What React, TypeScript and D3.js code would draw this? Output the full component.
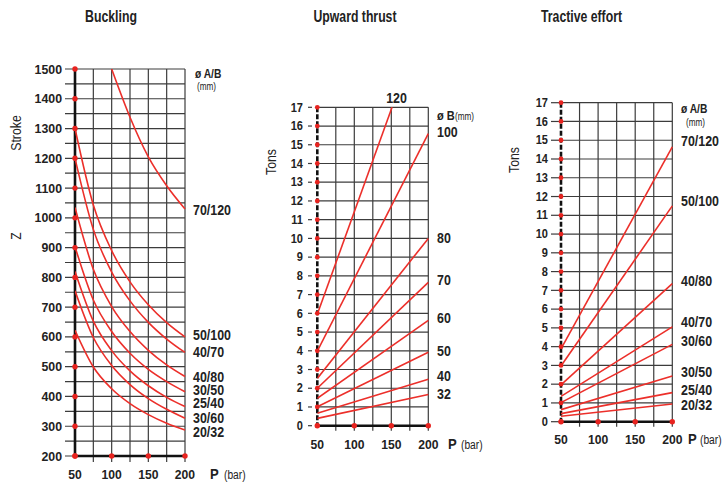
import React from "react";
import * as d3 from "d3";

// ---------------- DATA ----------------
// Buckling: admissible stroke Z (mm) vs pressure P (bar)
const bucklingP = [50, 75, 100, 125, 150, 175, 200];
const buckling_20_32 = [622, 499, 426, 376, 339, 310, 287];
const buckling_30_60 = [755, 598, 504, 440, 393, 357, 327];
const buckling_25_40 = [820, 653, 554, 486, 436, 397, 366];
const buckling_30_50 = [903, 724, 618, 545, 491, 450, 416];
const buckling_40_80 = [1035, 827, 702, 618, 555, 506, 467];
const buckling_40_70 = [1200, 961, 818, 721, 649, 593, 548];
const buckling_50_100 = [1300, 1043, 890, 785, 708, 648, 600];
const buckling70P = [100, 125, 150, 175, 200];
const buckling_70_120 = [1500, 1338, 1205, 1108, 1030];
const bucklingYTicks = [200, 300, 400, 500, 600, 700, 800, 900, 1000, 1100, 1200, 1300, 1400, 1500];
const bucklingXTicks = [50, 100, 150, 200];

// Upward thrust: tons vs P, rod diameter B (mm)
const thrustP = [50, 200];
const thrust120P = [50, 151];
const thrust_120 = [5.95, 17];
const thrust_100 = [3.98, 15.6];
const thrust_80 = [2.52, 10.0];
const thrust_70 = [2.0, 7.65];
const thrust_60 = [1.46, 5.62];
const thrust_50 = [1.01, 3.92];
const thrust_40 = [0.67, 2.48];
const thrust_32 = [0.39, 1.67];

// Tractive effort: tons vs P, diameters A/B (mm)
const tractiveP = [50, 200];
const tractive_70_120 = [3.88, 14.65];
const tractive_50_100 = [2.97, 11.5];
const tractive_40_80 = [1.96, 7.36];
const tractive_40_70 = [1.35, 5.05];
const tractive_30_60 = [1.02, 4.12];
const tractive_30_50 = [0.64, 2.44];
const tractive_25_40 = [0.43, 1.55];
const tractive_20_32 = [0.29, 0.94];

const tonsTicks = [0, 1, 2, 3, 4, 5, 6, 7, 8, 9, 10, 11, 12, 13, 14, 15, 16, 17];
const pTicks = [50, 100, 150, 200];
const gridP = [75, 100, 125, 150, 175, 200];

// ---------------- STYLE / LAYOUT ----------------
const FONT = "'Liberation Sans', Arial, sans-serif";
const RED = "#ec2f2a";
const DOT = "#e8231f";
const GRID = "#3c3c3c";
const TXT = "#222";

type Series = { name: string; xs: number[]; ys: number[]; labelY: number };

const bucklingSeries: Series[] = [
  { name: "70/120", xs: buckling70P, ys: buckling_70_120, labelY: 1010 },
  { name: "50/100", xs: bucklingP, ys: buckling_50_100, labelY: 590 },
  { name: "40/70", xs: bucklingP, ys: buckling_40_70, labelY: 534 },
  { name: "40/80", xs: bucklingP, ys: buckling_40_80, labelY: 450 },
  { name: "30/50", xs: bucklingP, ys: buckling_30_50, labelY: 405 },
  { name: "25/40", xs: bucklingP, ys: buckling_25_40, labelY: 361 },
  { name: "30/60", xs: bucklingP, ys: buckling_30_60, labelY: 311 },
  { name: "20/32", xs: bucklingP, ys: buckling_20_32, labelY: 265 },
];

const thrustSeries: Series[] = [
  { name: "120", xs: thrust120P, ys: thrust_120, labelY: -1 },
  { name: "100", xs: thrustP, ys: thrust_100, labelY: 15.41 },
  { name: "80", xs: thrustP, ys: thrust_80, labelY: 9.75 },
  { name: "70", xs: thrustP, ys: thrust_70, labelY: 7.51 },
  { name: "60", xs: thrustP, ys: thrust_60, labelY: 5.49 },
  { name: "50", xs: thrustP, ys: thrust_50, labelY: 3.72 },
  { name: "40", xs: thrustP, ys: thrust_40, labelY: 2.39 },
  { name: "32", xs: thrustP, ys: thrust_32, labelY: 1.43 },
];

const tractiveSeries: Series[] = [
  { name: "70/120", xs: tractiveP, ys: tractive_70_120, labelY: 14.67 },
  { name: "50/100", xs: tractiveP, ys: tractive_50_100, labelY: 11.52 },
  { name: "40/80", xs: tractiveP, ys: tractive_40_80, labelY: 7.23 },
  { name: "40/70", xs: tractiveP, ys: tractive_40_70, labelY: 5.05 },
  { name: "30/60", xs: tractiveP, ys: tractive_30_60, labelY: 4.04 },
  { name: "30/50", xs: tractiveP, ys: tractive_30_50, labelY: 2.38 },
  { name: "25/40", xs: tractiveP, ys: tractive_25_40, labelY: 1.42 },
  { name: "20/32", xs: tractiveP, ys: tractive_20_32, labelY: 0.62 },
];

function T(props: {
  x: number; y: number; size: number; sx?: number; bold?: boolean; anchor?: string; rotate?: number;
  children: React.ReactNode; fill?: string;
}) {
  const sx = props.sx ?? 1;
  const rot = props.rotate ? ` rotate(${props.rotate})` : "";
  return (
    <text
      transform={`translate(${props.x},${props.y})${rot} scale(${sx},1)`}
      textAnchor={props.anchor || "start"}
      fontFamily={FONT}
      fontWeight={props.bold ? "bold" : "normal"}
      fontSize={props.size}
      fill={props.fill || TXT}
    >
      {props.children}
    </text>
  );
}

function seriesPath(s: Series, x: d3.ScaleLinear<number, number>, y: d3.ScaleLinear<number, number>, curved: boolean) {
  const pts: [number, number][] = s.xs.map((p, i) => [p, s.ys[i]]);
  const line = d3
    .line<[number, number]>()
    .x((d) => x(d[0]))
    .y((d) => y(d[1]))
    .curve(curved ? d3.curveMonotoneX : d3.curveLinear);
  return line(pts) || "";
}

function Title(props: { x: number; w: number; text: string }) {
  return (
    <text x={props.x} y={22} textAnchor="middle" fontFamily={FONT} fontWeight="bold" fontSize={16.5} fill={TXT}
      textLength={props.w} lengthAdjust="spacingAndGlyphs">{props.text}</text>
  );
}

function Buckling() {
  const x = d3.scaleLinear().domain([50, 200]).range([75, 185]);
  const y = d3.scaleLinear().domain([200, 1500]).range([456, 69]);
  const hLines = d3.range(200, 1501, 50);
  return (
    <g>
      <Title x={111} w={52} text="Buckling" />
      {hLines.map((v) => (
        <line key={"h" + v} x1={65} x2={x(200)} y1={y(v)} y2={y(v)} stroke={GRID} strokeWidth={1.2} />
      ))}
      {gridP.map((p) => (
        <line key={"v" + p} x1={x(p)} x2={x(p)} y1={y(1500)} y2={y(200) + 6} stroke={GRID} strokeWidth={1.2} />
      ))}
      <line x1={x(50)} x2={x(50)} y1={y(1500)} y2={y(200)} stroke="#111" strokeWidth={2.6} />
      <line x1={x(50)} x2={x(200)} y1={y(200)} y2={y(200)} stroke="#111" strokeWidth={2.6} />
      <clipPath id="clipB">
        <rect x={x(50)} y={y(1500)} width={x(200) - x(50) + 1} height={y(200) - y(1500)} />
      </clipPath>
      <g clipPath="url(#clipB)">
        {bucklingSeries.map((s) => (
          <path key={s.name} d={seriesPath(s, x, y, true)} fill="none" stroke={RED} strokeWidth={1.6} />
        ))}
      </g>
      {bucklingYTicks.map((v) => (
        <g key={"t" + v}>
          <circle cx={x(50)} cy={y(v)} r={2.7} fill={DOT} />
          <T x={62} y={y(v) + 4.5} size={13} sx={0.95} bold anchor="end">{v}</T>
        </g>
      ))}
      {bucklingXTicks.map((p) => (
        <g key={"x" + p}>
          <circle cx={x(p)} cy={y(200)} r={2.7} fill={DOT} />
          <T x={x(p)} y={479} size={13.5} sx={0.9} bold anchor="middle">{p}</T>
        </g>
      ))}
      <T x={210} y={479} size={14.5} sx={0.9} bold>P</T>
      <T x={224} y={479} size={12.5} sx={0.82}>(bar)</T>
      <T x={21} y={133} size={15} sx={0.82} rotate={-90} anchor="middle">Stroke</T>
      <T x={21} y={236} size={15} sx={0.82} rotate={-90} anchor="middle">Z</T>
      <T x={195} y={y(1470)} size={12.5} sx={0.82} bold>ø A/B</T>
      <T x={197} y={y(1428)} size={10} sx={0.82}>(mm)</T>
      {bucklingSeries.map((s) => (
        <T key={"l" + s.name} x={193} y={y(s.labelY)} size={13.8} sx={0.9} bold>{s.name}</T>
      ))}
    </g>
  );
}

function TonsChart(props: {
  id: string; title: string; titleX: number; titleW: number;
  x0: number; x1: number; yTop: number; yBot: number;
  series: Series[]; dashStart: number; dashLen: number; labelTickEnd: number; xLabelY: number;
  pX: number; barX: number; tonsX: number; tonsY: number; labelX: number;
}) {
  const p = props;
  const x = d3.scaleLinear().domain([50, 200]).range([p.x0, p.x1]);
  const y = d3.scaleLinear().domain([0, 17]).range([p.yBot, p.yTop]);
  return (
    <g>
      <Title x={p.titleX} w={p.titleW} text={p.title} />
      {tonsTicks.map((v) => (
        <g key={"h" + v}>
          <line x1={x(50)} x2={x(200)} y1={y(v)} y2={y(v)} stroke={GRID} strokeWidth={1.2} />
          <line x1={p.dashStart} x2={p.dashStart + p.dashLen} y1={y(v)} y2={y(v)} stroke={GRID} strokeWidth={1.2} />
        </g>
      ))}
      {gridP.map((q) => (
        <line key={"v" + q} x1={x(q)} x2={x(q)} y1={y(17)} y2={y(0) + 5} stroke={GRID} strokeWidth={1.2} />
      ))}
      <line x1={x(50)} x2={x(50)} y1={y(17)} y2={y(0)} stroke="#111" strokeWidth={2.6} strokeDasharray="5 2" />
      <line x1={x(50)} x2={x(200)} y1={y(0)} y2={y(0)} stroke="#111" strokeWidth={2.6} />
      <clipPath id={"clip" + p.id}>
        <rect x={x(50)} y={y(17) - 1} width={x(200) - x(50) + 1} height={y(0) - y(17) + 1} />
      </clipPath>
      <g clipPath={`url(#clip${p.id})`}>
        {p.series.map((s) => (
          <path key={s.name} d={seriesPath(s, x, y, false)} fill="none" stroke={RED} strokeWidth={1.6} />
        ))}
      </g>
      {tonsTicks.map((v) => (
        <g key={"t" + v}>
          <circle cx={x(50)} cy={y(v)} r={2.4} fill={DOT} />
          <T x={p.labelTickEnd} y={y(v) + 4.2} size={12} sx={0.92} bold anchor="end">{v}</T>
        </g>
      ))}
      {pTicks.map((q) => (
        <g key={"x" + q}>
          <circle cx={x(q)} cy={y(0)} r={2.7} fill={DOT} />
          <T x={x(q)} y={p.xLabelY} size={13.5} sx={0.9} bold anchor="middle">{q}</T>
        </g>
      ))}
      <T x={p.pX} y={p.xLabelY} size={14.5} sx={0.9} bold>P</T>
      <T x={p.barX} y={p.xLabelY} size={12.5} sx={0.82}>(bar)</T>
      <T x={p.tonsX} y={p.tonsY} size={15} sx={0.82} rotate={-90} anchor="middle">Tons</T>
      {p.series.filter((s) => s.labelY >= 0).map((s) => (
        <T key={"l" + s.name} x={p.labelX} y={y(s.labelY)} size={13.8} sx={0.9} bold>{s.name}</T>
      ))}
      {p.id === "U" ? (
        <g>
          <T x={x(157)} y={y(17.23)} size={13.8} sx={0.9} bold anchor="middle">120</T>
          <T x={p.labelX} y={y(16.32)} size={13} sx={0.85} bold>ø B</T>
          <T x={p.labelX + 18} y={y(16.32)} size={10} sx={0.82}>(mm)</T>
        </g>
      ) : (
        <g>
          <T x={p.labelX} y={y(16.45)} size={12.5} sx={0.82} bold>ø A/B</T>
          <T x={p.labelX + 5} y={y(15.75)} size={10} sx={0.82}>(mm)</T>
        </g>
      )}
    </g>
  );
}

export default function App() {
  return (
    <svg width={725} height={484} viewBox="0 0 725 484" style={{ position: "absolute", left: 0, top: 0, background: "#fff" }}>
      <rect x={0} y={0} width={725} height={484} fill="#fff" />
      <Buckling />
      <TonsChart id="U" title="Upward thrust" titleX={355} titleW={83} x0={317.3} x1={428.3} yTop={107.3} yBot={425.7}
        series={thrustSeries} dashStart={308} dashLen={4} labelTickEnd={303} xLabelY={449} pX={448} barX={461}
        tonsX={276} tonsY={162} labelX={437} />
      <TonsChart id="T" title="Tractive effort" titleX={581.5} titleW={81} x0={561} x1={672.3} yTop={102.7} yBot={421.7}
        series={tractiveSeries} dashStart={551} dashLen={10} labelTickEnd={548} xLabelY={444} pX={688} barX={700}
        tonsX={519} tonsY={160} labelX={681} />
    </svg>
  );
}
